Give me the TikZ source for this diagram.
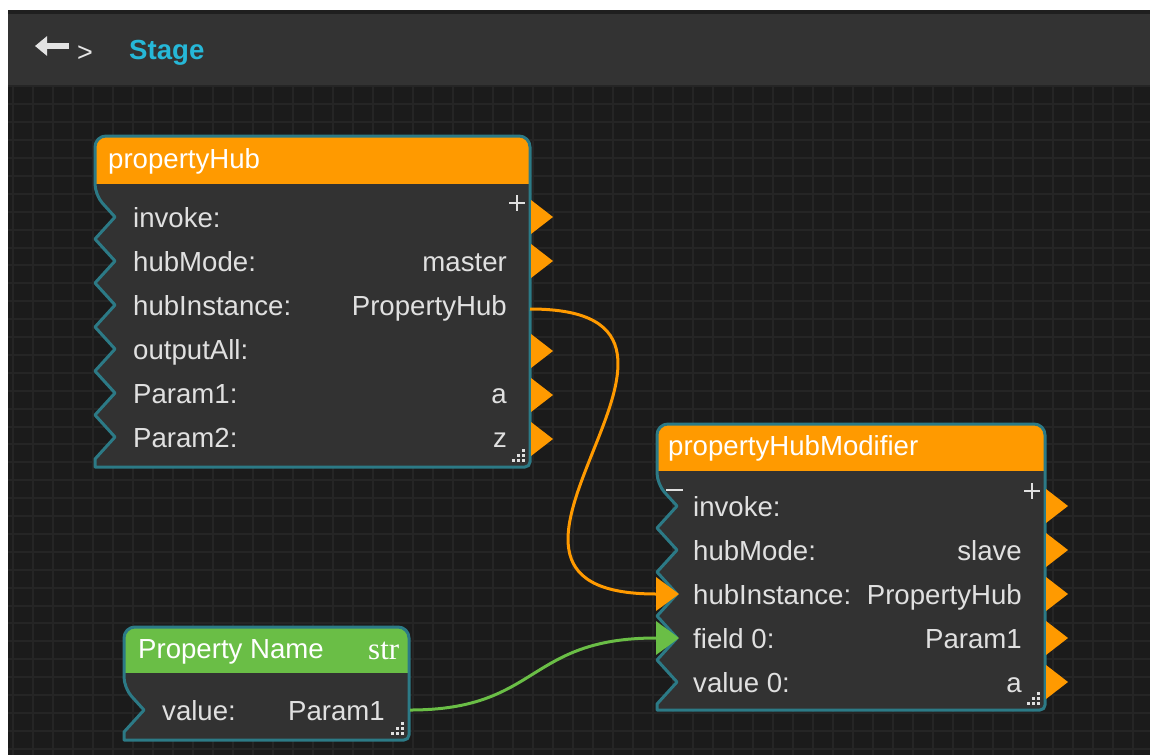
\documentclass[tikz,border=0pt]{standalone}
\usepackage{fontspec}
\setmainfont{Liberation Sans}
\newfontfamily\typefont{Liberation Serif}
\usetikzlibrary{arrows.meta}

\definecolor{hubOrange}{RGB}{255,154,0}
\definecolor{hubGreen}{RGB}{106,190,70}
\definecolor{hubTeal}{RGB}{44,122,134}
\definecolor{hubBody}{RGB}{50,50,50}
\definecolor{hubBack}{RGB}{27,27,27}
\definecolor{hubGrid}{RGB}{37,37,37}
\definecolor{hubBar}{RGB}{51,51,51}
\definecolor{hubText}{RGB}{224,224,224}
\definecolor{hubCyan}{RGB}{38,184,216}

% outline of a block: left, top, right, bottom, first notch, rows
\newcommand{\blockshape}[6]{(#1,#5) \foreach \ry in {#6} {-- (#1+20,\ry) -- (#1,\ry+22)} -- (#1,#4) [rounded corners=5] -- (#3,#4) [rounded corners=11] -- (#3,#2) -- (#1,#2) -- cycle}

\begin{document}
\begin{tikzpicture}[
		x=1pt, y=-1pt,
		txt/.style={font=\fontsize{27.6}{30}\selectfont, text=hubText, inner sep=0pt},
		field/.style={txt, anchor=base west},
		value/.style={txt, anchor=base east},
		title/.style={txt, text=white, anchor=base west},
		gridline/.style={draw=hubGrid, line width=2pt},
		border/.style={draw=hubTeal, line width=3pt, line join=round},
		outport/.style={fill=hubOrange},
		wire/.style={line width=3pt},
		signmark/.style={draw=hubText, line width=2.5pt},
	]
	\useasboundingbox (0,0) rectangle (1150,755);

	% stage background
	\fill[hubBack] (8,84) rectangle (1150,755);
	\foreach \gx in {13,33,...,1150}
		\draw[gridline] (\gx,85) -- (\gx,755);
	\foreach \gy in {86.4,104.3,...,755}
		\draw[gridline] (8,\gy) -- (1150,\gy);

	% title bar
	\fill[black!88] (8,10) rectangle (1150,14);
	\fill[hubBar] (8,14) rectangle (1150,84);
	\draw[black!80, line width=1.5pt] (8,84) -- (1150,84);
	\draw[hubText!90, line width=6pt, -{Triangle[length=12pt, width=19pt]}] (69,46) -- (35,46);
	\node (crumb) [txt, font=\fontsize{27}{30}\selectfont, text=hubText!85, anchor=base west] at (77,61) {>};
	\node (stage) [txt, font=\fontsize{27.6}{30}\selectfont\bfseries, text=hubCyan, anchor=base west] at (129,59) {Stage};

	% propertyHub
	\fill[hubBody] \blockshape{95}{136}{530}{467}{195}{217,261,...,439};
	\begin{scope}
		\clip (80,120) rectangle (545,183);
		\fill[hubOrange] \blockshape{95}{136}{530}{467}{195}{217,261,...,439};
	\end{scope}
	\draw[border] \blockshape{95}{136}{530}{467}{195}{217,261,...,439};
	\node (hub) [title] at (108,168) {propertyHub};
	\foreach \name/\val [count=\i] in {invoke:/,hubMode:/master,hubInstance:/PropertyHub,outputAll:/,Param1:/a,Param2:/z} {
		\node (hub-f\i) [field] at (133,{217+44*(\i-1)+10}) {\name};
		\node (hub-v\i) [value] at (507,{217+44*(\i-1)+10}) {\val};
	}
	\foreach \ry in {217,261,351,395,439}
		\fill[outport] (531,\ry-17) -- (553,\ry) -- (531,\ry+17) -- cycle;
	\draw[signmark] (509,203) -- (525,203) (517,195) -- (517,211);
	\foreach \i/\j in {0/0,1/0,2/0,0/1,1/1,0/2}
		\fill[hubText] (522-5*\i,459-5*\j) rectangle +(3,3);
	\coordinate (hub-out3) at (530,309);

	% propertyHubModifier
	\fill[hubBody] \blockshape{657}{424}{1045}{710}{484}{506,550,...,682};
	\begin{scope}
		\clip (640,410) rectangle (1060,470);
		\fill[hubOrange] \blockshape{657}{424}{1045}{710}{484}{506,550,...,682};
	\end{scope}
	\draw[border] \blockshape{657}{424}{1045}{710}{484}{506,550,...,682};
	\node (mod) [title] at (668,455) {propertyHubModifier};
	\foreach \name/\val [count=\i] in {invoke:/,hubMode:/slave,hubInstance:/PropertyHub,field 0:/Param1,value 0:/a} {
		\node (mod-f\i) [field] at (693,{506+44*(\i-1)+10}) {\name};
		\node (mod-v\i) [value] at (1022,{506+44*(\i-1)+10}) {\val};
	}
	\foreach \ry in {506,550,594,638,682}
		\fill[outport] (1046,\ry-17) -- (1068,\ry) -- (1046,\ry+17) -- cycle;
	\fill[hubOrange] (656,577) -- (679,594) -- (656,611) -- cycle;
	\fill[hubGreen] (656,621) -- (679,638) -- (656,655) -- cycle;
	\draw[signmark] (666,490) -- (683,490);
	\draw[signmark] (1024,491) -- (1040,491) (1032,483) -- (1032,499);
	\foreach \i/\j in {0/0,1/0,2/0,0/1,1/1,0/2}
		\fill[hubText] (1037-5*\i,702-5*\j) rectangle +(3,3);
	\coordinate (mod-in3) at (656,594);
	\coordinate (mod-in4) at (656,638);

	% Property Name
	\fill[hubBody] \blockshape{124}{627}{409}{740}{688}{710};
	\begin{scope}
		\clip (110,610) rectangle (408,672);
		\fill[hubGreen] \blockshape{124}{627}{409}{740}{688}{710};
		\node (name-type) [title, font=\fontsize{31}{33}\typefont] at (368,659) {str};
	\end{scope}
	\draw[border] \blockshape{124}{627}{409}{740}{688}{710};
	\node (name) [title] at (138,658) {Property Name};
	\node (name-f1) [field] at (162,720) {value:};
	\node (name-v1) [value] at (385,720) {Param1};
	\foreach \i/\j in {0/0,1/0,2/0,0/1,1/1,0/2}
		\fill[hubText] (401-5*\i,732-5*\j) rectangle +(3,3);
	\coordinate (name-out) at (410,710);

	% wires
	\draw[wire, hubOrange] (hub-out3) .. controls +(240,0) and +(-240,0) .. (mod-in3);
	\draw[wire, hubGreen] (name-out) .. controls +(130,0) and +(-130,0) .. (mod-in4);
\end{tikzpicture}
\end{document}
